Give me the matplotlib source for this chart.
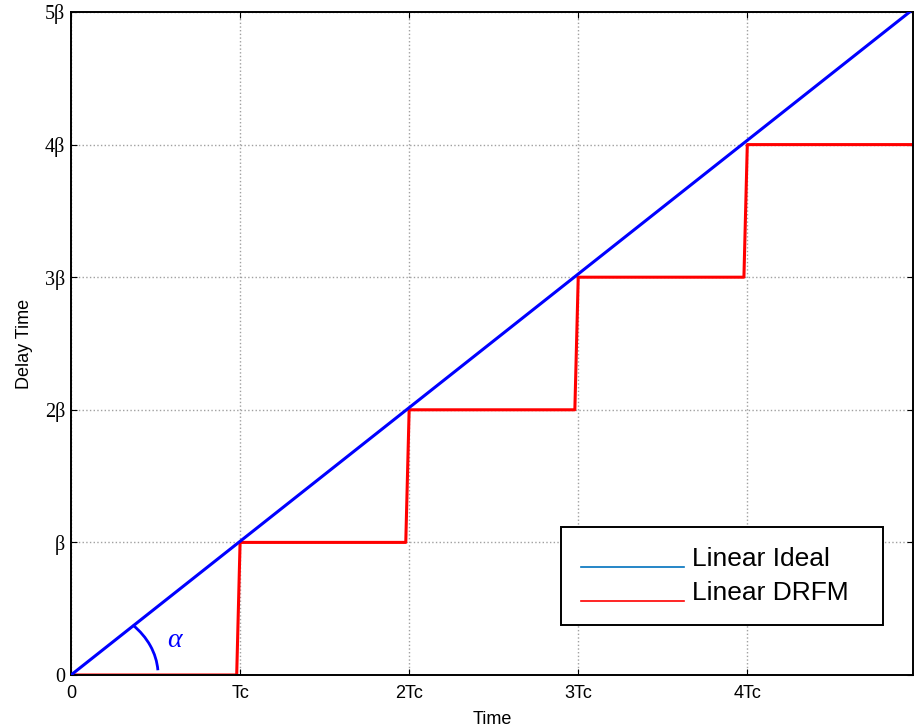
import matplotlib
matplotlib.use('Agg')
import matplotlib.pyplot as plt
from matplotlib.patches import Arc
from matplotlib.lines import Line2D
from matplotlib.legend_handler import HandlerLine2D
import numpy as np

# ideal linear delay and the quantised DRFM staircase (x in Tc, y in beta)
ideal_t = [0.0, 4.96]
ideal_d = [0.0, 5.0]
drfm_t = [0.0, 0.98, 1.0, 1.98, 2.0, 2.98, 3.0, 3.98, 4.0, 4.98]
drfm_d = [0, 0, 1, 1, 2, 2, 3, 3, 4, 4]

xticks = [0, 1, 2, 3, 4]
xlabels = ['0', 'Tc', '2Tc', '3Tc', '4Tc']
yticks = [0, 1, 2, 3, 4, 5]
ylabels = ['0', 'β', '2β', '3β', '4β', '5β']


class BaselineHandler(HandlerLine2D):
    # legend sample sits on the text baseline instead of the middle
    def create_artists(self, legend, orig_handle, xdescent, ydescent,
                       width, height, fontsize, trans):
        arts = super().create_artists(legend, orig_handle, xdescent, ydescent,
                                      width, height, fontsize, trans)
        for a in arts:
            a.set_ydata(np.asarray(a.get_ydata()) - 0.55 * height)
        return arts


fig = plt.figure(figsize=(9.14, 7.27), dpi=100)
ax = fig.add_axes([71/914, 52/727, 842/914, 663/727])

ax.plot(ideal_t, ideal_d, color='#0000ff', lw=2.2, zorder=3)
ax.plot(drfm_t, drfm_d, color='#ff0000', lw=2.2, zorder=2)

# angle marker at the origin
arc = Arc((0, 0), 1.03, 1.07, theta1=4, theta2=46, color='#0000ff', lw=2.0)
ax.add_patch(arc)
ax.text(0.61, 0.26, 'α', color='#0000ff', fontsize=20, fontstyle='italic',
        family='Liberation Serif', ha='center', va='center')

ax.set_xlim(0, 4.98)
ax.set_ylim(0, 5)
ax.set_xticks(xticks)
ax.set_xticklabels(xlabels, family='Liberation Sans', fontsize=13)
ax.set_yticks(yticks)
ax.set_yticklabels(ylabels, family='Liberation Serif', fontsize=14.5)
ax.tick_params(direction='in', length=4, width=0.8, top=True, right=True)
ax.tick_params(axis='x', pad=7)
ax.tick_params(axis='y', pad=4)
ax.grid(True, color='#a0a0a0', linestyle=':', lw=1.0)
for s in ax.spines.values():
    s.set_linewidth(1.4)

ax.set_xlabel('Time', family='Liberation Sans', fontsize=13, labelpad=7)
ax.set_ylabel('Delay Time', family='Liberation Sans', fontsize=13, labelpad=9)

handles = [Line2D([], [], color='#0072bd', lw=1.2),
           Line2D([], [], color='#ff0000', lw=1.2)]
leg = ax.legend(handles, ['Linear Ideal  ', 'Linear DRFM  '], loc='lower right',
                bbox_to_anchor=(0.9644, 0.0754), borderaxespad=0,
                fancybox=False, framealpha=1, edgecolor='black',
                handlelength=3.9, handletextpad=0.3, borderpad=0.75,
                labelspacing=0.38, handler_map={Line2D: BaselineHandler()},
                prop={'family': 'Liberation Sans', 'size': 19})
leg.get_frame().set_linewidth(1.4)

fig.savefig('out.png', dpi=100)
